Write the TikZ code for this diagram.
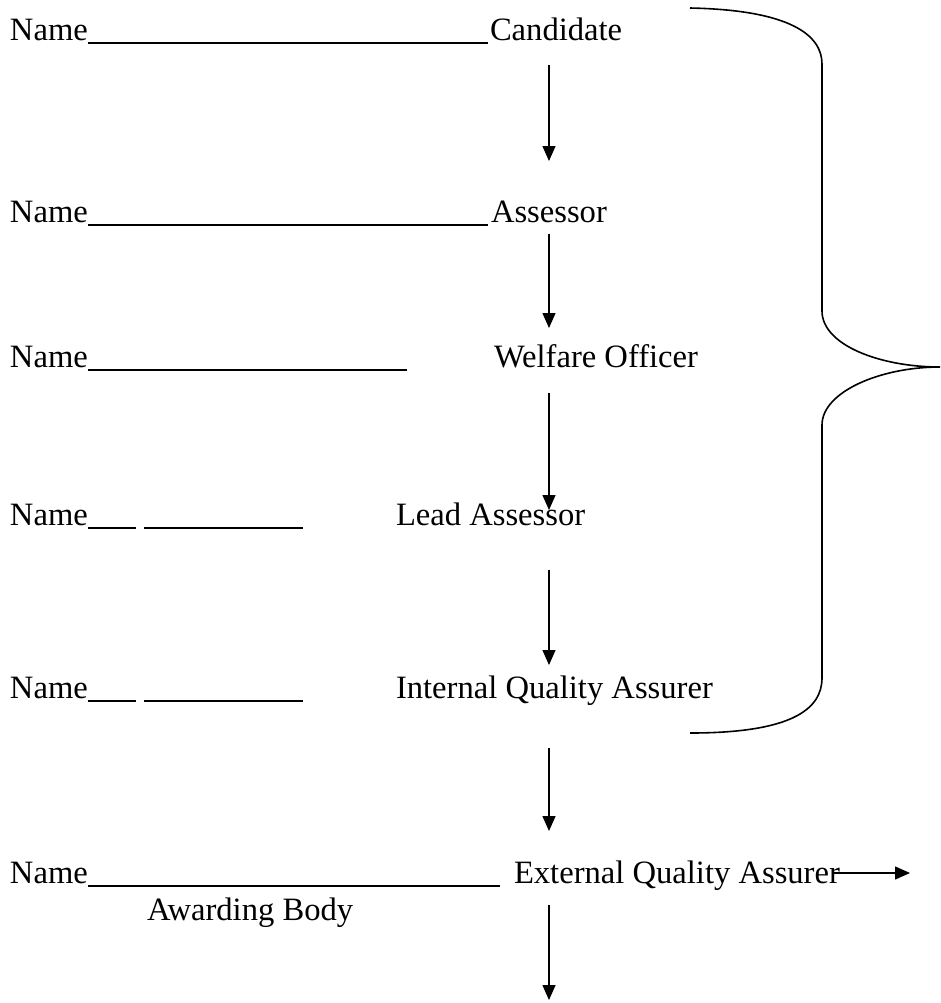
\documentclass[tikz,border=0pt]{standalone}
\usepackage{fontspec}
\setmainfont{Liberation Serif}
\usetikzlibrary{arrows.meta, positioning}
\tikzset{
	every picture/.style = {/utils/exec={\fontsize{16.3pt}{19pt}\selectfont}},
	label/.style = {inner sep = 0pt, outer sep = 0pt, anchor = base west},
	uline/.style = {draw = black, line width = 0.6pt},
	arrow/.style = {-{Triangle[length = 7.5pt, width = 6.5pt]}, draw = black, line width = 0.7pt},
	brace/.style = {draw = black, line width = 0.8pt}
}
\begin{document}
\begin{tikzpicture}[x = 0.5pt, y = -0.5pt]
	\useasboundingbox (0,0) rectangle (941,1003);
	
	%%%%%%%% names and roles %%%%%%%%
	\node (name1) [label] at (10,40) {Name};
	\node (cand) [label] at (490,40) {Candidate};
	\node (name2) [label] at (10,222) {Name};
	\node (assess) [label] at (491,222) {Assessor};
	\node (name3) [label] at (10,367) {Name};
	\node (welfare) [label] at (494,367) {Welfare Officer};
	\node (name4) [label] at (10,525) {Name};
	\node (lead) [label] at (396,525) {Lead Assessor};
	\node (name5) [label] at (10,698) {Name};
	\node (iqa) [label] at (396,698) {Internal Quality Assurer};
	\node (name6) [label] at (10,883) {Name};
	\node (eqa) [label] at (514,883) {External Quality Assurer};
	\node (awd) [label] at (147,920) {Awarding Body};
	
	%% blanks to fill in
	\draw [uline] ([yshift=-1.5pt]name1.base east) -- +(400,0);
	\draw [uline] ([yshift=-1.5pt]name2.base east) -- +(400,0);
	\draw [uline] ([yshift=-1.5pt]name3.base east) -- +(319,0);
	\draw [uline] ([yshift=-1.5pt]name4.base east) -- +(48,0);
	\draw [uline] ([yshift=-1.5pt]name4.base east) ++(56,0) -- +(159,0);
	\draw [uline] ([yshift=-1.5pt]name5.base east) -- +(48,0);
	\draw [uline] ([yshift=-1.5pt]name5.base east) ++(56,0) -- +(159,0);
	\draw [uline] ([yshift=-1.5pt]name6.base east) -- +(412,0);
	
	%%% arrows %%%
	\coordinate (a1top) at (549,65);
	\coordinate (a1end) at (549,161);
	\coordinate (a2top) at (549,234);
	\coordinate (a2end) at (549,328);
	\coordinate (a3top) at (549,393);
	\coordinate (a3end) at (549,510);
	\coordinate (a4top) at (549,570);
	\coordinate (a4end) at (549,665);
	\coordinate (a5top) at (549,748);
	\coordinate (a5end) at (549,831);
	\coordinate (a6top) at (549,905);
	\coordinate (a6end) at (549,1000);
	\coordinate (outend) at (910,873);
	\draw [arrow] (a1top) -- (a1end);
	\draw [arrow] (a2top) -- (a2end);
	\draw [arrow] (a3top) -- (a3end);
	\draw [arrow] (a4top) -- (a4end);
	\draw [arrow] (a5top) -- (a5end);
	\draw [arrow] (a6top) -- (a6end);
	\draw [arrow] ([xshift=-4pt]eqa.east |- outend) -- (outend);
	
	% brace round the first five
	\draw [brace] (690,8) .. controls (790,10) and (822,35) .. (822,64)
		-- (822,311) .. controls (822,345) and (880,367) .. (940,367)
		.. controls (880,367) and (822,392) .. (822,425)
		-- (822,678) .. controls (822,710) and (790,733) .. (690,733);
\end{tikzpicture}
\end{document}
